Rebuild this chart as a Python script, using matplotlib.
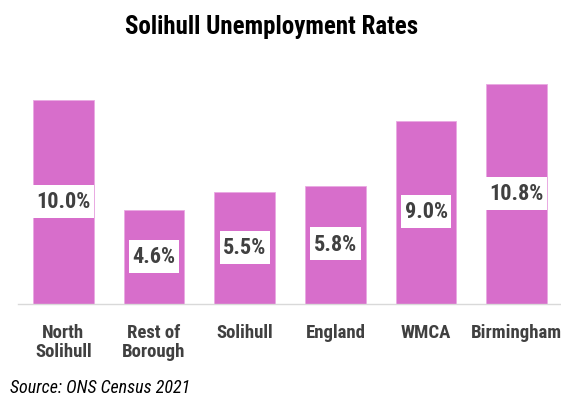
import matplotlib
matplotlib.use("Agg")
import matplotlib.pyplot as plt
from matplotlib.patches import Rectangle

areas = ["North\nSolihull", "Rest of\nBorough", "Solihull", "England", "WMCA", "Birmingham"]
rates = [10.0, 4.6, 5.5, 5.8, 9.0, 10.8]

plt.rcParams["font.family"] = ["Roboto Condensed", "DejaVu Sans"]

bar_color = "#D76ECB"
text_grey = "#404040"

fig = plt.figure(figsize=(5.61, 3.96), dpi=100)
ax = fig.add_axes([0.032, 0.232, 0.97, 0.618])

x = range(len(areas))
bars = ax.bar(x, rates, width=0.67, color=bar_color, edgecolor="#E9A9E2", linewidth=0.6, zorder=2)

ax.set_xlim(-0.5, 5.5)
ax.set_ylim(0, 12)

# value labels halfway up each bar
labels = []
for rect, v in zip(bars, rates):
    t = ax.text(rect.get_x() + rect.get_width() / 2, v / 2, f"{v:.1f}%",
                ha="center", va="center", fontsize=16, fontweight="bold", color=text_grey, zorder=4)
    labels.append(t)

# white box behind each label: text width plus a little, fixed height in pixels
fig.canvas.draw()
inv = ax.transData.inverted()
for t in labels:
    bb = t.get_window_extent()
    cx, cy = (bb.x0 + bb.x1) / 2, (bb.y0 + bb.y1) / 2
    w, h = bb.width + 7, 33
    (x0, y0), (x1, y1) = inv.transform([(cx - w / 2, cy - h / 2 + 1), (cx + w / 2, cy + h / 2 + 1)])
    ax.add_patch(Rectangle((x0, y0), x1 - x0, y1 - y0, facecolor="white", edgecolor="none", zorder=3))

ax.set_xticks(list(x))
ax.set_xticklabels(areas, fontsize=13.5, fontweight="bold", color=text_grey, linespacing=1.1)
ax.tick_params(axis="x", length=0, pad=14)
ax.set_yticks([])
for side in ["top", "right", "left"]:
    ax.spines[side].set_visible(False)
ax.spines["bottom"].set_color("#D9D9D9")
ax.spines["bottom"].set_linewidth(1.0)

fig.text(0.484, 0.914, "Solihull Unemployment Rates", ha="center", va="baseline",
         fontsize=18, fontweight="bold", color="black")
fig.text(0.018, 0.008, "Source: ONS Census 2021", ha="left", va="baseline",
         fontsize=13, style="italic", color="black")

fig.savefig("out.png", dpi=100)
